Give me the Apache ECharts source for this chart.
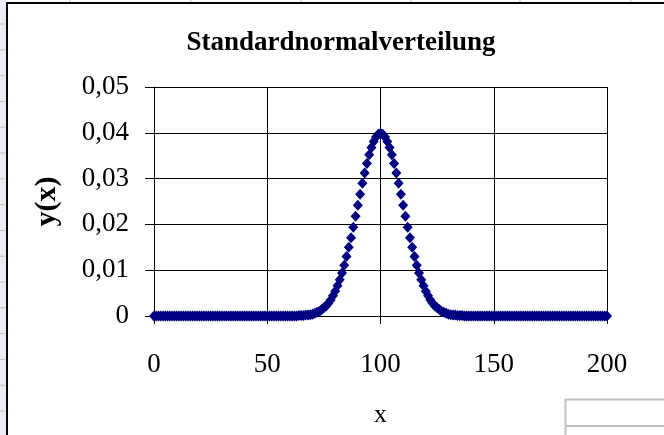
<!DOCTYPE html>
<html lang="de">
<head>
  <meta charset="utf-8">
  <script src="https://cdn.jsdelivr.net/npm/echarts@6.0.0/dist/echarts.min.js"></script>
</head>
<body style="margin: 0; background: #fff">
  <div id="container" style="width: 664px; height: 435px"></div>
  <script type="text/javascript">
    var title = 'Standardnormalverteilung';
    var xName = 'x';
    var yName = 'y(x)';
    var xStart = 0;   // first x, points follow at step 1
    // y(x) for x = 0 .. 200
    var yValues = [
      0, 0, 0, 0, 0, 0, 0, 0, 0, 0,
      0, 0, 0, 0, 0, 0, 0, 0, 0, 0,
      0, 0, 0, 0, 0, 0, 0, 0, 0, 0,
      0, 0, 0, 0, 0, 0, 0, 0, 0, 0,
      0, 0, 0, 0, 0, 0, 0, 0, 0, 0,
      0, 0, 0, 0, 0, 0, 0, 0, 0, 0,
      0, 0, 0, 0, 0.0001, 0.0001, 0.0001, 0.0002, 0.0002, 0.0003,
      0.0004, 0.0006, 0.0008, 0.0010, 0.0014, 0.0018, 0.0022, 0.0028, 0.0035, 0.0044,
      0.0054, 0.0066, 0.0079, 0.0094, 0.0111, 0.0130, 0.0150, 0.0171, 0.0194, 0.0218,
      0.0242, 0.0266, 0.0290, 0.0312, 0.0333, 0.0352, 0.0368, 0.0381, 0.0391, 0.0397,
      0.0399, 0.0397, 0.0391, 0.0381, 0.0368, 0.0352, 0.0333, 0.0312, 0.0290, 0.0266,
      0.0242, 0.0218, 0.0194, 0.0171, 0.0150, 0.0130, 0.0111, 0.0094, 0.0079, 0.0066,
      0.0054, 0.0044, 0.0035, 0.0028, 0.0022, 0.0018, 0.0014, 0.0010, 0.0008, 0.0006,
      0.0004, 0.0003, 0.0002, 0.0002, 0.0001, 0.0001, 0.0001, 0, 0, 0,
      0, 0, 0, 0, 0, 0, 0, 0, 0, 0,
      0, 0, 0, 0, 0, 0, 0, 0, 0, 0,
      0, 0, 0, 0, 0, 0, 0, 0, 0, 0,
      0, 0, 0, 0, 0, 0, 0, 0, 0, 0,
      0, 0, 0, 0, 0, 0, 0, 0, 0, 0,
      0, 0, 0, 0, 0, 0, 0, 0, 0, 0,
      0
    ];

    var points = yValues.map((y, i) => [xStart + i, y]);
    var serif = '"Liberation Serif", "Times New Roman", serif';

    // spreadsheet bits around the chart object
    var sheet = [];
    for (var k = 0; k < 16; k++) {
      var yy = 24 + k * 25.8;
      sheet.push({ type: 'line', shape: { x1: 0, y1: yy, x2: 5, y2: yy }, style: { stroke: '#c0c0c0', lineWidth: 1 }, silent: true });
    }
    [70, 191, 301, 411, 520, 631].forEach(function (xx) {
      sheet.push({ type: 'line', shape: { x1: xx, y1: 0, x2: xx, y2: 2 }, style: { stroke: '#c0c0c0', lineWidth: 1 }, silent: true });
    });

    var myChart = echarts.init(document.getElementById('container'), null, { renderer: 'canvas' });
    myChart.setOption({
      animation: false,
      backgroundColor: '#fff',
      graphic: [
        { type: 'rect', shape: { x: 0, y: 0, width: 6, height: 435 }, style: { fill: '#ececf4' }, silent: true, z: -10 }
      ].concat(sheet).concat([
        { type: 'polyline', shape: { points: [[7, 435], [7, 3], [664, 3]] }, style: { stroke: '#000', lineWidth: 2, fill: null }, silent: true },
        { type: 'polyline', shape: { points: [[565.5, 435], [565.5, 399.5], [664, 399.5]] }, style: { stroke: '#c0c0c0', lineWidth: 2, fill: null }, silent: true },
        { type: 'line', shape: { x1: 565, y1: 426, x2: 664, y2: 426 }, style: { stroke: '#c0c0c0', lineWidth: 2 }, silent: true }
      ]),
      title: {
        text: title,
        left: 336,
        top: 25,
        textAlign: 'center',
        textStyle: { fontFamily: serif, fontSize: 27, fontWeight: 'bold', color: '#000' }
      },
      grid: { left: 154, top: 87, right: 57, bottom: 119 },
      xAxis: {
        type: 'value',
        min: 0, max: 200, interval: 50,
        name: xName,
        nameLocation: 'middle',
        nameGap: 86,
        nameMoveOverlap: false,
        nameTextStyle: { fontFamily: serif, fontSize: 26, color: '#000' },
        axisLine: { show: true, lineStyle: { color: '#000', width: 1 } },
        axisTick: { show: true, length: 8, lineStyle: { color: '#000' } },
        axisLabel: { fontFamily: serif, fontSize: 27, color: '#000', margin: 35 },
        splitLine: { show: true, lineStyle: { color: '#000', width: 1 } }
      },
      yAxis: {
        type: 'value',
        min: 0, max: 0.05, interval: 0.01,
        name: yName,
        nameLocation: 'middle',
        nameGap: 92,
        nameMoveOverlap: false,
        nameTextStyle: { fontFamily: serif, fontSize: 30, fontWeight: 'bold', color: '#000' },
        axisLine: { show: true, lineStyle: { color: '#000', width: 1 } },
        axisTick: { show: true, length: 9, lineStyle: { color: '#000' } },
        axisLabel: {
          fontFamily: serif, fontSize: 27, color: '#000', margin: 25,
          formatter: function (v) { return v === 0 ? '0' : v.toFixed(2).replace('.', ','); }
        },
        splitLine: { show: true, lineStyle: { color: '#000', width: 1 } }
      },
      series: [{
        type: 'scatter',
        data: points,
        symbol: 'diamond',
        symbolSize: [10, 11],
        itemStyle: { color: '#000080', opacity: 1 },
        clip: false
      }]
    });

    window.addEventListener('resize', myChart.resize);
  </script>
</body>
</html>
